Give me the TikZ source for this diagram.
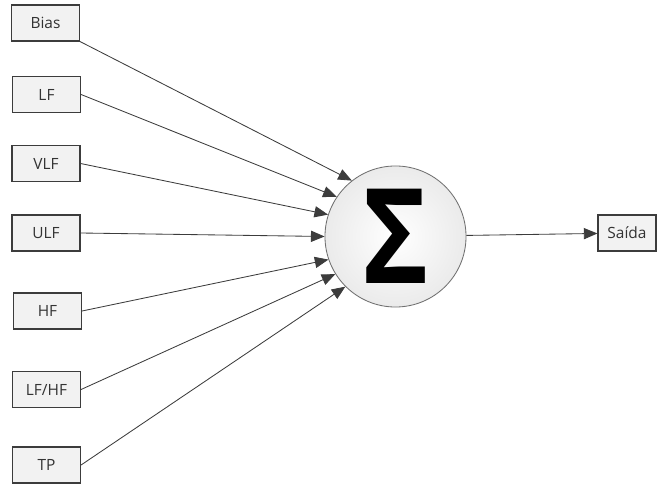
\documentclass[tikz,border=0pt]{standalone}
\usepackage{fontspec}
\setsansfont{Open Sans}
\usetikzlibrary{arrows.meta}
\definecolor{lingray}{RGB}{60,60,60}
\definecolor{boxgray}{RGB}{242,242,242}
\definecolor{sumgray}{RGB}{112,112,112}

\begin{document}
\begin{tikzpicture}[x=0.025cm,y=-0.025cm]
  \tikzstyle{inp}=[draw=lingray,thick,fill=boxgray,minimum width=1.7cm,minimum height=0.9cm,
    inner sep=2pt,font=\sffamily\fontsize{11}{13}\selectfont,text=black!80]
  \tikzstyle{sumnode}=[circle,draw=sumgray,semithick,inner color=white,outer color=black!8,
    minimum size=3.525cm,inner sep=0pt]
  \tikzstyle{f}=[-{Triangle[length=3.4mm,width=2.8mm]},lingray,semithick]

  \useasboundingbox (0,0) rectangle (658,484);

  % -- inputs --
  \node[inp] (bias) at (45.5,23) {Bias};
  \node[inp] (lf) at (46.5,94.5) {LF};
  \node[inp] (vlf) at (46,163.5) {VLF};
  \node[inp] (ulf) at (46,233) {ULF};
  \node[inp] (hf) at (47.5,311) {HF};
  \node[inp] (lfhf) at (46.5,389.5) {LF/HF};
  \node[inp] (tp) at (46.5,465) {TP};

  % -- summation --
  \node[sumnode] (sum) at (395.5,236.5) {};
  \node[font=\sffamily\bfseries\fontsize{94}{94}\selectfont,xscale=0.85,inner sep=0pt] (sigma) at (sum) {Σ};

  % -- output --
  \node[inp,minimum width=1.45cm] (out) at (627,233) {Saída};

  % -- connectors --
  \draw[f] (bias.south east) -- (sum.128);
  \draw[f] (lf.east) -- (sum.146);
  \draw[f] (vlf.east) -- (sum.162);
  \draw[f] (ulf.east) -- (sum.180);
  \draw[f] (hf.east) -- (sum.199);
  \draw[f] (lfhf.east) -- (sum.212);
  \draw[f] (tp.east) -- (sum.225);
  \draw[f] (sum) -- (out);
\end{tikzpicture}
\end{document}
